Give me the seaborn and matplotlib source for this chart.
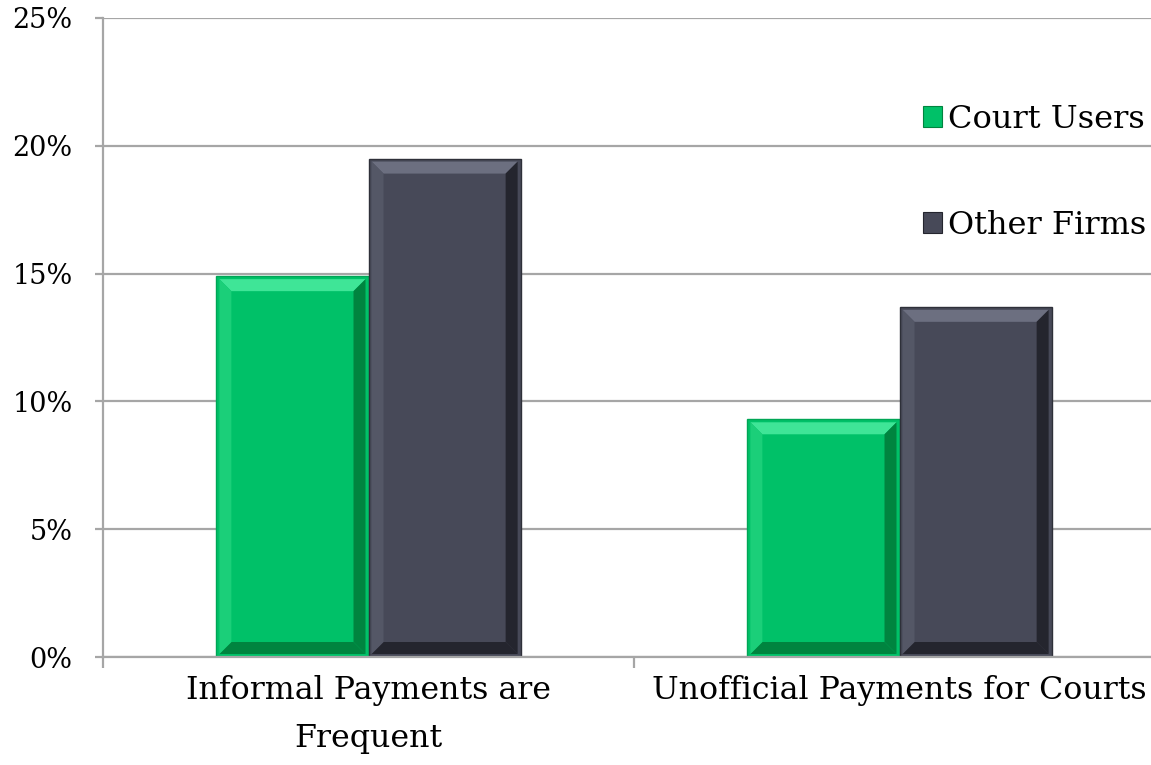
import matplotlib
matplotlib.use("Agg")
import matplotlib.pyplot as plt
import seaborn as sns
import pandas as pd
from matplotlib.patches import Polygon, Patch
from matplotlib.ticker import FuncFormatter, FixedLocator


# Data
categories = ["Informal Payments are\nFrequent", "Unofficial Payments for Courts"]
groups = ["Court Users", "Other Firms"]
court_users = [14.9, 9.3]
other_firms = [19.5, 13.7]

colors = ["#00C168", "#474958"]
light = ["#3FE597", "#6C6F80"]
side = ["#1BCF79", "#545766"]
dark = ["#00843F", "#24252E"]
edge = ["#00A656", "#2E3039"]

df = pd.DataFrame({
    "category": categories * 2,
    "group": [groups[0]] * 2 + [groups[1]] * 2,
    "value": court_users + other_firms,
})


# Figure
sns.set_style("white")
plt.rcParams["font.family"] = ["DejaVu Serif"]
plt.rcParams["text.color"] = "black"

fig = plt.figure(figsize=(11.51, 7.65), dpi=100)
ax = fig.add_axes([103 / 1151, 108 / 765, 1062 / 1151, 639 / 765])

sns.barplot(
    data=df,
    x="category",
    y="value",
    hue="group",
    palette=colors,
    width=0.573,
    gap=0,
    saturation=1,
    legend=False,
    ax=ax,
)

ax.set_xlim(-0.5, 1.5)
ax.set_ylim(0, 25)
ax.set_yticks([0, 5, 10, 15, 20, 25])
ax.yaxis.set_major_formatter(FuncFormatter(lambda v, p: f"{v:.0f}%"))
ax.grid(axis="y", color="#A6A6A6", linewidth=1.6)
ax.set_axisbelow(True)

for s in ["top", "right"]:
    ax.spines[s].set_visible(False)
for s in ["left", "bottom"]:
    ax.spines[s].set_color("#A6A6A6")
    ax.spines[s].set_linewidth(1.6)

ax.set_xlabel("")
ax.set_ylabel("")

ax.tick_params(axis="y", which="major", length=6, width=1.6, color="#A6A6A6",
               pad=16, labelsize=19.5, labelcolor="black", direction="out", left=True)
ax.tick_params(axis="x", which="major", length=0, pad=13, labelsize=22.8,
               labelcolor="black")
ax.xaxis.set_minor_locator(FixedLocator([-0.5, 0.5, 1.5]))
ax.tick_params(axis="x", which="minor", length=8, width=1.6, color="#A6A6A6",
               direction="out", bottom=True)
for lbl in ax.get_xticklabels():
    lbl.set_linespacing(1.7)


# Bevel on each bar
inv = ax.transData.inverted()


def px(nx, ny):
    a = inv.transform((0, 0))
    b = inv.transform((nx, ny))
    return b[0] - a[0], b[1] - a[1]


rx, ry = px(3, 3)
bx, by = px(12, 12)

bars = [p for p in ax.patches if p.get_height() > 0]
for i, bar in enumerate(bars):
    k = 0 if i < 2 else 1
    x0, y0 = bar.get_x(), bar.get_y()
    x1, y1 = x0 + bar.get_width(), y0 + bar.get_height()
    bar.set_edgecolor(edge[k])
    bar.set_linewidth(1)

    ox0, ox1, oy0, oy1 = x0 + rx, x1 - rx, y0 + ry, y1 - ry
    ix0, ix1, iy0, iy1 = ox0 + bx, ox1 - bx, oy0 + by, oy1 - by

    faces = [
        ([(ox0, oy1), (ox1, oy1), (ix1, iy1), (ix0, iy1)], light[k]),
        ([(ox0, oy0), (ox1, oy0), (ix1, iy0), (ix0, iy0)], dark[k]),
        ([(ox0, oy0), (ox0, oy1), (ix0, iy1), (ix0, iy0)], side[k]),
        ([(ox1, oy0), (ox1, oy1), (ix1, iy1), (ix1, iy0)], dark[k]),
    ]
    for pts, c in faces:
        ax.add_patch(Polygon(pts, closed=True, facecolor=c, edgecolor="none", zorder=3))


# Legend
handles = [
    Patch(facecolor=colors[0], edgecolor=dark[0], linewidth=0.8),
    Patch(facecolor=colors[1], edgecolor=dark[1], linewidth=0.8),
]
fig.legend(
    handles,
    groups,
    loc="upper right",
    bbox_to_anchor=(1.021, 0.902),
    frameon=False,
    fontsize=23,
    handlelength=0.62,
    handleheight=0.62,
    handletextpad=0.18,
    labelspacing=2.35,
)

fig.savefig("out.png", dpi=100)
